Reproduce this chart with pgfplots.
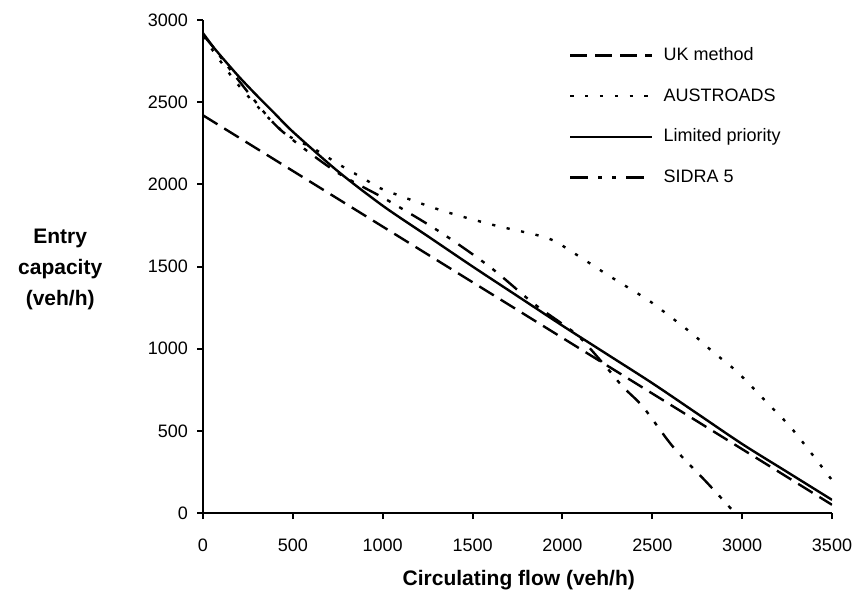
\documentclass[border=0pt]{standalone}
\usepackage{fontspec}
\setmainfont{Liberation Sans}
\usepackage{pgfplots}
\pgfplotsset{compat=1.18}
\begin{document}
\begin{tikzpicture}
\begin{axis}[name=ax, scale only axis, width=314.5pt, height=246.5pt,
 xmin=0, xmax=3500, ymin=0, ymax=3000,
 axis x line*=bottom, axis y line*=left,
 axis line style={line width=1pt,-},
 xtick={0,500,...,3500}, ytick={0,500,...,3000},
 tick align=outside, major tick length=3pt,
 tick style={line width=1pt, black},
 /pgf/number format/assume math mode=true,
 /pgf/number format/set thousands separator={},
 tick label style={font=\fontsize{9}{10}\selectfont},
 xticklabel style={yshift=-6.5pt},
 yticklabel style={xshift=-1pt},
 xlabel={Circulating flow (veh/h)},
 ylabel={Entry\\capacity\\(veh/h)},
 every axis x label/.style={at={(axis description cs:0.502,-0.136)}, anchor=center, font=\bfseries\fontsize{10.5}{12}\selectfont},
 every axis y label/.style={at={(axis description cs:-0.227,0.495)}, anchor=center, align=center, font=\bfseries\fontsize{10.5}{15.5}\selectfont},
 legend style={draw=none, fill=none, at={(axis description cs:0.572,0.963)}, anchor=north west,
   font=\fontsize{9}{10}\selectfont, row sep=7.3pt, column sep=3pt,
   nodes={inner sep=2pt, text height=7pt, text depth=2pt}},
 legend cell align=left,
 legend image code/.code={\draw[#1] (0pt,0pt) -- (41pt,0pt);},
]
\addplot[black, line width=1.2pt, dash pattern=on 8.5pt off 4pt] coordinates {(0,2420) (3500,50)};
\addlegendentry{UK method}
\addplot[black, line width=1.2pt, dash pattern=on 1.6pt off 5.8pt, smooth, tension=0.5] coordinates {
(0,2900) (200,2600) (445,2320) (612,2220) (762,2118) (907,2027) (1000,1970) (1319,1844) (1614,1753) (1914,1674) (2059,1585) (2250,1450) (2432,1327) (2500,1278) (2710,1102) (2838,980) (2972,859) (3140,670) (3283,505) (3500,200)};
\addlegendentry{AUSTROADS}
\addplot[black, line width=1.2pt, smooth, tension=0.5] coordinates {
(0,2910) (100,2780) (200,2655) (300,2540) (400,2430) (500,2320) (750,2080) (1000,1870) (1250,1685) (1500,1500) (1750,1320) (2000,1140) (2250,965) (2500,790) (2750,605) (3000,420) (3250,250) (3500,80)};
\addlegendentry{Limited priority}
\addplot[black, line width=1.2pt, dash pattern=on 9pt off 5pt on 2pt off 5pt on 2pt off 5pt, smooth, tension=0.5] coordinates {
(0,2920) (150,2700) (370,2400) (500,2270) (750,2070) (1024,1905) (1319,1710) (1597,1497) (1836,1278) (2000,1150) (2100,1065) (2250,880) (2337,767) (2449,645) (2616,402) (2800,190) (2960,0)};
\addlegendentry{SIDRA 5}
\end{axis}
\path ([shift={(-101.5pt,-46pt)}]ax.south west) rectangle ([shift={(13.5pt,10pt)}]ax.north east);
\end{tikzpicture}
\end{document}
